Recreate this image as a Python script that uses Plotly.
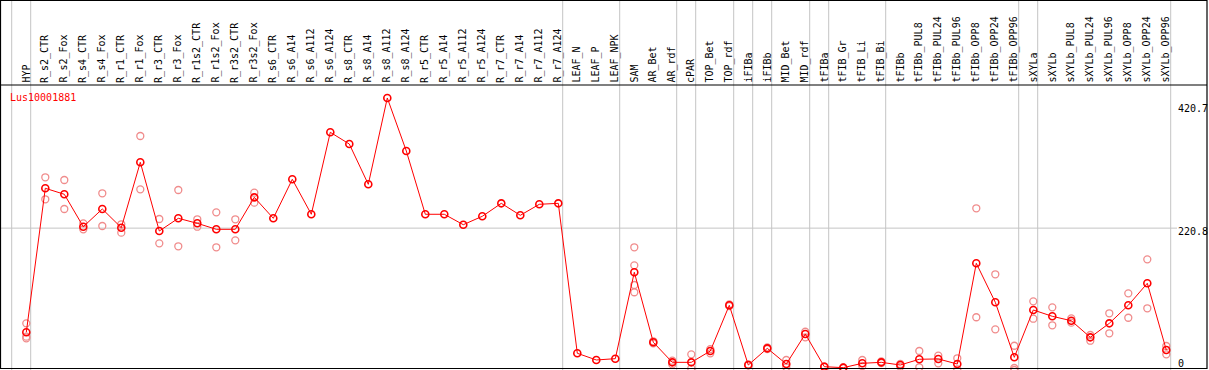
import plotly.graph_objects as go

# ---------------- data ----------------
categories = [
    "HYP", "R_s2_CTR", "R_s2_Fox", "R_s4_CTR", "R_s4_Fox", "R_r1_CTR", "R_r1_Fox",
    "R_r3_CTR", "R_r3_Fox", "R_r1s2_CTR", "R_r1s2_Fox", "R_r3s2_CTR", "R_r3s2_Fox",
    "R_s6_CTR", "R_s6_A14", "R_s6_A112", "R_s6_A124", "R_s8_CTR", "R_s8_A14",
    "R_s8_A112", "R_s8_A124", "R_r5_CTR", "R_r5_A14", "R_r5_A112", "R_r5_A124",
    "R_r7_CTR", "R_r7_A14", "R_r7_A112", "R_r7_A124", "LEAF_N", "LEAF_P", "LEAF_NPK",
    "SAM", "AR_Bet", "AR_rdf", "cPAR", "TOP_Bet", "TOP_rdf", "iFIBa", "iFIBb",
    "MID_Bet", "MID_rdf", "tFIBa", "tFIB_Gr", "tFIB_Li", "tFIB_Bi", "tFIBb",
    "tFIBb_PUL8", "tFIBb_PUL24", "tFIBb_PUL96", "tFIBb_OPP8", "tFIBb_OPP24",
    "tFIBb_OPP96", "sXYLa", "sXYLb", "sXYLb_PUL8", "sXYLb_PUL24", "sXYLb_PUL96",
    "sXYLb_OPP8", "sXYLb_OPP24", "sXYLb_OPP96",
]

mean_values = [
    60.8, 282.0, 272.8, 223.0, 250.2, 221.5, 321.9, 216.4, 235.9, 228.2, 219.0, 219.0, 268.1,
    235.9, 295.8, 242.1, 368.0, 350.0, 288.1, 420.7, 339.3, 242.1, 242.1, 226.1, 239.0,
    258.9, 240.5, 257.4, 258.9, 28.6, 18.3, 20.3,
    153.0, 45.5, 14.7, 14.7, 32.1, 102.3, 10.6, 36.2, 12.1, 58.2,
    8.0, 6.5, 13.2, 14.7, 10.6, 19.4, 19.9, 12.1, 166.8, 106.9, 22.4,
    95.1, 85.4, 78.6, 53.1, 74.6, 102.3, 136.1, 33.6,
]

replicate_values = [
    [74.6, 54.1, 51.6], [298.9, 265.1], [294.7, 250.2], [228.2, 219.0], [274.3, 224.1],
    [226.7, 213.8], [362.3, 280.4], [234.8, 197.5], [279.4, 192.9], [234.4, 223.0],
    [245.1, 191.4], [234.4, 202.1], [275.2, 259.9],
    [], [], [], [], [], [], [], [], [], [], [], [], [], [], [], [], [], [], [],
    [191.4, 163.7, 133.5, 122.3], [44.0, 47.0], [17.2, 11.5], [27.0, 5.5], [28.6, 35.0],
    [101.0, 103.5], [10.0, 11.5], [35.0, 37.5], [18.3, 7.1], [61.7, 53.1],
    [7.5, 8.5], [6.0, 7.0], [18.3, 9.1], [16.0, 13.5], [12.1, 8.0], [32.1, 7.1],
    [24.9, 13.2], [20.9, 4.0], [251.3, 83.9], [149.9, 65.4], [40.2, 2.9, 6.0],
    [108.4, 81.7], [99.2, 71.6], [82.3, 75.6], [56.7, 47.9], [90.0, 59.3],
    [120.7, 83.2], [172.9, 97.7], [39.8, 27.0],
]

# index of the last category of each group (group separators)
group_ends = [-1, 0, 28, 31, 34, 35, 37, 38, 39, 41, 42, 45, 52, 53, 60]

y_tick_values = [420.7, 220.8, 0]
y_tick_labels = ["420.7", "220.8", "0"]
gene_id = "Lus10001881"

# ---------------- layout geometry ----------------
W, H = 1209, 370
X0_PX, X_STEP = 26.3, 19.0          # pixel of first category, spacing
Y0_PX, Y_SCALE = 371.9, 0.6511      # pixel of value 0, pixels per unit

x_range = [-X0_PX / X_STEP, (W - X0_PX) / X_STEP]
y_range = [(Y0_PX - H) / Y_SCALE, Y0_PX / Y_SCALE]


def px(xp):
    return xp / W


def py(yp):
    return 1 - yp / H


def val_to_px(v):
    return Y0_PX - v * Y_SCALE


MONO = "DejaVu Sans Mono"
GRID = "#c4c4c4"

fig = go.Figure()

# replicate points
rx, ry = [], []
for i, reps in enumerate(replicate_values):
    for r in reps:
        rx.append(i)
        ry.append(r)
fig.add_trace(go.Scatter(
    x=rx, y=ry, mode="markers",
    marker=dict(symbol="circle-open", size=7, color="rgb(240,140,140)",
                line=dict(width=1.3, color="rgb(240,140,140)")),
    hoverinfo="skip", showlegend=False,
))

# mean line
fig.add_trace(go.Scatter(
    x=list(range(len(categories))), y=mean_values, mode="lines+markers",
    line=dict(color="#ff0000", width=1),
    marker=dict(symbol="circle-open", size=7, color="#ff0000",
                line=dict(width=1.6, color="#ff0000")),
    showlegend=False,
))

shapes = []
# vertical group separators (full height)
for g in group_ends:
    xs = g + 4.4 / X_STEP
    shapes.append(dict(type="line", xref="x", yref="paper", x0=xs, x1=xs,
                       y0=py(H), y1=py(0), line=dict(color=GRID, width=1), layer="below"))
# horizontal grid line at middle tick
shapes.append(dict(type="line", xref="paper", yref="y", x0=0, x1=px(1177),
                   y0=y_tick_values[1], y1=y_tick_values[1],
                   line=dict(color=GRID, width=1), layer="below"))
# frame
shapes.append(dict(type="rect", xref="paper", yref="paper", x0=px(0.5), x1=px(1207),
                   y0=py(368.5), y1=py(0.5), line=dict(color="black", width=1.2),
                   fillcolor="rgba(0,0,0,0)"))
# line below the category labels
shapes.append(dict(type="line", xref="paper", yref="paper", x0=px(0), x1=px(1207),
                   y0=py(85), y1=py(85), line=dict(color="black", width=1.2)))

annotations = []
for i, c in enumerate(categories):
    annotations.append(dict(
        x=i - 0.04, y=py(85), xref="x", yref="paper", text=c, textangle=-90,
        showarrow=False, xanchor="center", yanchor="bottom",
        font=dict(family=MONO, size=10, color="black"),
    ))

annotations.append(dict(
    x=px(8), y=py(97), xref="paper", yref="paper", text=gene_id, showarrow=False,
    xanchor="left", yanchor="middle", font=dict(family=MONO, size=10, color="#ff0000"),
))

for v, t in zip(y_tick_values, y_tick_labels):
    top = min(max(val_to_px(v) + 3.0, 100.5), 356.0) if v != y_tick_values[1] else val_to_px(v) - 4.5
    annotations.append(dict(
        x=px(1176), y=py(top), xref="paper", yref="paper", text=t, showarrow=False,
        xanchor="left", yanchor="top", font=dict(family=MONO, size=10, color="black"),
    ))

fig.update_layout(
    width=W, height=H, margin=dict(l=0, r=0, t=0, b=0),
    paper_bgcolor="white", plot_bgcolor="white",
    xaxis=dict(range=x_range, visible=False, fixedrange=True),
    yaxis=dict(range=y_range, visible=False, fixedrange=True),
    shapes=shapes, annotations=annotations, showlegend=False,
)

fig.write_html("out.html", config={"displayModeBar": False},
               post_script="document.body.style.margin='0';")
